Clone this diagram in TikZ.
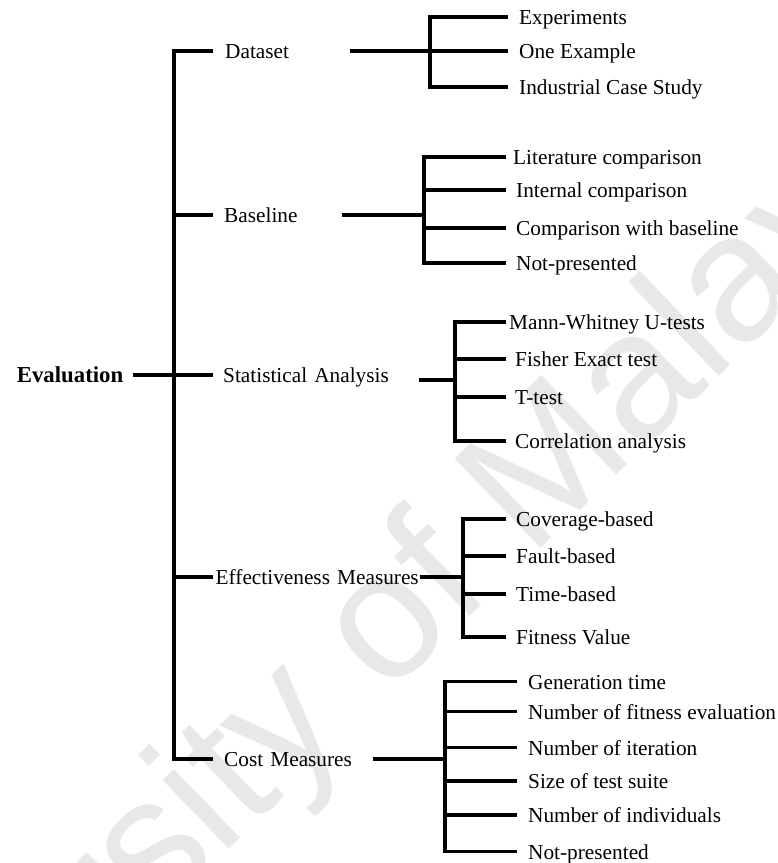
\documentclass[tikz,border=0pt]{standalone}
\usepackage{fontspec}
\setmainfont{Liberation Serif}
\newfontfamily\wmfont{Liberation Sans}
\begin{document}
\begin{tikzpicture}[x=1pt,y=-1pt,
  ln/.style={line width=3.1pt, line join=miter},
  thk/.style={line width=4.2pt},
  lbl/.style={inner ysep=0pt, text height=15pt, text depth=0pt,
    font=\fontsize{21.3}{25}\selectfont},
  lvl/.style={lbl, anchor=west, align=left},
  leaf/.style={lbl, anchor=west, inner xsep=#1},
  leaf/.default=10pt,
  wmtext/.style={text=black!9, font=\wmfont\fontsize{180}{180}\selectfont}
]
\useasboundingbox (0,0) rectangle (778,863);
\fill[white] (0,0) rectangle (778,863);

% background watermark
\node[wmtext, anchor=base west, inner sep=0pt, rotate=44] (wm) at (-218,1281) {University of Malaya};

% root
\node[lbl, anchor=east, inner xsep=9.5pt, font=\bfseries\fontsize{22.8}{26}\selectfont]
  (ev) at (133,375) {Evaluation};

% first level
\node[lvl, inner xsep=12pt, text width=113pt] (ds) at (213,51)  {Dataset};
\node[lvl, inner xsep=11pt, text width=107pt] (bl) at (213,215) {Baseline};
\node[lvl, inner xsep=10pt, text width=186pt] (sa) at (213,375) {\mbox{Statistical Analysis}};
\node[lvl, inner xsep=2.5pt, text width=202pt] (em) at (213,577) {\mbox{Effectiveness Measures}};
\node[lvl, inner xsep=11pt, text width=138pt] (cm) at (213,759) {\mbox{Cost Measures}};

% spine
\coordinate (spT) at (174,51);
\coordinate (spB) at (174,759);
\draw[ln] (ds.west) -- (spT) -- (spB) -- (cm.west);
\draw[ln] (bl.west -| spT) -- (bl.west);
\draw[ln] (sa.west -| spT) -- (sa.west);
\draw[ln] (em.west -| spT) -- (em.west);
\draw[thk] (ev.east) -- (ev.east -| spT);

% junctions of the second level
\coordinate (dsj) at (430,51);
\coordinate (blj) at (424,215);
\coordinate (saj) at (455,380);
\coordinate (emj) at (463,577);
\coordinate (cmj) at (445,759);

\draw[thk] (ds.east) -- (dsj);
\draw[thk] (bl.east) -- (blj);
\draw[thk] (sa.east |- saj) -- (saj);
\draw[thk] (em.east) -- (emj);
\draw[thk] (cm.east) -- (cmj);

% Dataset
\node[leaf=11pt] (d1) at (508,17) {Experiments};
\node[leaf=11pt] (d2) at (508,51) {One Example};
\node[leaf=11pt] (d3) at (508,87) {Industrial Case Study};
\draw[ln] (d1.west) -| (dsj) |- (d3.west);
\draw[ln] (dsj) -- (d2.west);

% Baseline
\node[leaf=7pt]  (b1) at (506,157) {Literature comparison};
\node[leaf=10pt] (b2) at (506,190) {Internal comparison};
\node[leaf=10pt] (b3) at (506,228) {Comparison with baseline};
\node[leaf=10pt] (b4) at (506,263) {Not-presented};
\draw[ln] (b1.west) -| (blj) |- (b4.west);
\draw[ln] (b2.west -| blj) -- (b2.west);
\draw[ln] (b3.west -| blj) -- (b3.west);

% Statistical Analysis
\node[leaf=3pt] (s1) at (506,322) {Mann-Whitney U-tests};
\node[leaf=9pt] (s2) at (506,359) {Fisher Exact test};
\node[leaf=9pt] (s3) at (506,397) {T-test};
\node[leaf=9pt] (s4) at (506,441) {Correlation analysis};
\draw[ln] (s1.west) -| (saj) |- (s4.west);
\draw[ln] (s2.west -| saj) -- (s2.west);
\draw[ln] (s3.west -| saj) -- (s3.west);

% Effectiveness Measures
\node[leaf=10pt] (e1) at (506,519) {Coverage-based};
\node[leaf=10pt] (e2) at (506,556) {Fault-based};
\node[leaf=10pt] (e3) at (506,594) {Time-based};
\node[leaf=10pt] (e4) at (506,637) {Fitness Value};
\draw[ln] (e1.west) -| (emj) |- (e4.west);
\draw[ln] (e2.west -| emj) -- (e2.west);
\draw[ln] (e3.west -| emj) -- (e3.west);

% Cost Measures
\node[leaf=11pt] (c1) at (517,681.7) {Generation time};
\node[leaf=11pt] (c2) at (517,711.7) {Number of fitness evaluation};
\node[leaf=11pt] (c3) at (517,747.7) {Number of iteration};
\node[leaf=11pt] (c4) at (517,781)   {Size of test suite};
\node[leaf=11pt] (c5) at (517,815)   {Number of individuals};
\node[leaf=11pt] (c6) at (517,851.7) {Not-presented};
\draw[ln] (c1.west) -| (cmj) |- (c6.west);
\draw[ln] (c2.west -| cmj) -- (c2.west);
\draw[ln] (c3.west -| cmj) -- (c3.west);
\draw[ln] (c4.west -| cmj) -- (c4.west);
\draw[ln] (c5.west -| cmj) -- (c5.west);
\end{tikzpicture}
\end{document}
